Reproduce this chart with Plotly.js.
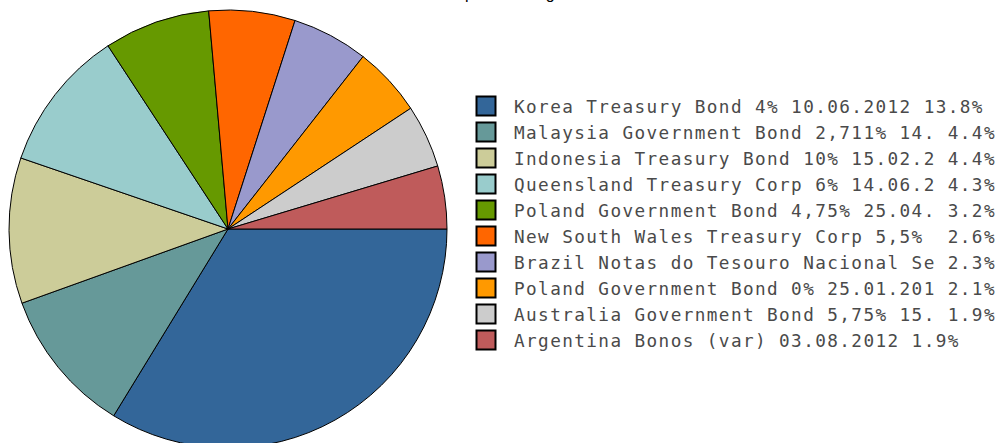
<!DOCTYPE html>
<html>
<head>
<meta charset="utf-8">
<script src="https://cdn.plot.ly/plotly-3.0.1.min.js"></script>
<style>
  html, body { margin: 0; padding: 0; overflow: hidden; background: #fff; }
  #chart { width: 998px; height: 480px; }
  .legendtext { letter-spacing: 1.4px; }
</style>
</head>
<body>
<div id="chart"></div>
<script>
const names = [
  'Korea Treasury Bond 4% 10.06.2012',
  'Malaysia Government Bond 2,711% 14.',
  'Indonesia Treasury Bond 10% 15.02.2',
  'Queensland Treasury Corp 6% 14.06.2',
  'Poland Government Bond 4,75% 25.04.',
  'New South Wales Treasury Corp 5,5%\u00a0',
  'Brazil Notas do Tesouro Nacional Se',
  'Poland Government Bond 0% 25.01.201',
  'Australia Government Bond 5,75% 15.',
  'Argentina Bonos (var) 03.08.2012'
];
const values = [13.8, 4.4, 4.4, 4.3, 3.2, 2.6, 2.3, 2.1, 1.9, 1.9];
const colors = ['#336699', '#669999', '#CCCC99', '#99CCCC', '#669900',
                '#FF6600', '#9999CC', '#FF9900', '#CCCCCC', '#BF5B5B'];
const titleText = 'Top 10 Holdings';

const labels = names.map((n, i) => n + ' ' + values[i].toFixed(1) + '%');

const W = 998, H = 480;
const cx = 228, cy = 229, r = 219;

const trace = {
  type: 'pie',
  labels: labels,
  values: values,
  sort: false,
  direction: 'clockwise',
  rotation: 90,
  textinfo: 'none',
  hoverinfo: 'label',
  marker: { colors: colors, line: { color: '#000', width: 1 } },
  domain: { x: [(cx - r) / W, (cx + r) / W], y: [(H - cy - r) / H, (H - cy + r) / H] }
};

const layout = {
  width: W, height: H,
  margin: { l: 0, r: 0, t: 0, b: 0, autoexpand: false },
  paper_bgcolor: '#fff',
  showlegend: true,
  legend: {
    x: 474 / W, xanchor: 'left',
    y: (H - 88) / H, yanchor: 'top',
    font: { family: 'DejaVu Sans Mono, monospace', size: 17.7, color: '#4a4a4a' },
    bgcolor: 'rgba(0,0,0,0)', borderwidth: 0
  },
  annotations: [{
    text: titleText, showarrow: false, xref: 'paper', yref: 'paper',
    x: 505 / W, xanchor: 'center', y: (H - 4) / H, yanchor: 'bottom',
    font: { family: 'Liberation Sans, Arial, sans-serif', size: 16, color: '#000' }
  }]
};

Plotly.newPlot('chart', [trace], layout, { displayModeBar: false, staticPlot: true }).then(() => {
  document.querySelectorAll('path.legendpie').forEach(p => {
    p.setAttribute('d', 'M9.5,9.5H-9.5V-9.5H9.5Z');
    p.setAttribute('transform', 'translate(12,0)');
    p.style.strokeWidth = '2px';
    p.style.stroke = '#000';
  });
});
</script>
</body>
</html>
